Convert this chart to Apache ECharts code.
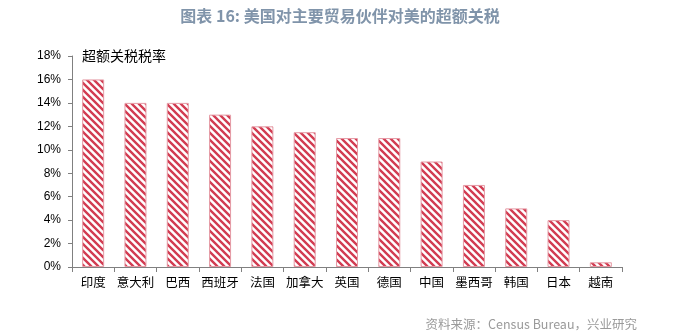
<!DOCTYPE html>
<html>
<head>
<meta charset="utf-8">
<script src="https://cdn.jsdelivr.net/npm/echarts@6/dist/echarts.min.js"></script>
<style>
  html, body { margin: 0; padding: 0; background: #fff; }
  #chart { width: 680px; height: 335px; }
</style>
</head>
<body>
<div id="chart"></div>
<script>
// Trading partners and their excess tariff rate on US goods (%)
const countries = ['印度', '意大利', '巴西', '西班牙', '法国', '加拿大', '英国', '德国', '中国', '墨西哥', '韩国', '日本', '越南'];
const excessTariff = [16, 14, 14, 13, 12, 11.5, 11, 11, 9, 7, 5, 4, 0.4];
const yTicks = [0, 2, 4, 6, 8, 10, 12, 14, 16, 18];

// Diagonal hatch fill for the bars
function hatchPattern() {
  const size = 7;
  const c = document.createElement('canvas');
  c.width = size; c.height = size;
  const ctx = c.getContext('2d');
  ctx.fillStyle = '#ffffff';
  ctx.fillRect(0, 0, size, size);
  ctx.strokeStyle = '#d23c52';
  ctx.lineWidth = 2.4;
  ctx.beginPath();
  // lines running top-left to bottom-right
  for (let k = -size; k <= size; k += size) {
    ctx.moveTo(k - 1, -1);
    ctx.lineTo(k + size + 1, size + 1);
  }
  ctx.stroke();
  return c;
}

const chart = echarts.init(document.getElementById('chart'), null, { renderer: 'canvas' });
chart.setOption({
  animation: false,
  backgroundColor: '#ffffff',
  title: [{
    text: '图表 16: 美国对主要贸易伙伴对美的超额关税',
    left: 'center',
    top: 3,
    textStyle: { fontFamily: 'Noto Sans CJK SC', fontSize: 16, fontWeight: 'bold', color: '#8094aa' }
  }, {
    text: '资料来源：Census Bureau，兴业研究',
    right: 38,
    top: 313,
    textStyle: { fontFamily: 'Noto Sans CJK SC', fontSize: 12.5, fontWeight: 'normal', color: '#9a9a9a' }
  }],
  graphic: [{
    type: 'text',
    left: 82,
    top: 49,
    style: { text: '超额关税税率', font: '14px "Noto Sans CJK SC"', fill: '#000' }
  }],
  grid: { left: 72, right: 58, top: 56, bottom: 68, containLabel: false },
  xAxis: {
    type: 'category',
    data: countries,
    axisLine: { lineStyle: { color: '#808080', width: 1 } },
    axisTick: { show: true, alignWithLabel: false, length: 5, lineStyle: { color: '#808080' } },
    axisLabel: { fontFamily: 'Noto Sans CJK SC', fontSize: 12.5, color: '#000', margin: 9, interval: 0 },
    splitLine: { show: false }
  },
  yAxis: {
    type: 'value',
    min: yTicks[0],
    max: yTicks[yTicks.length - 1],
    interval: 2,
    axisLine: { show: true, lineStyle: { color: '#808080', width: 1 } },
    axisTick: { show: true, length: 4, lineStyle: { color: '#808080' } },
    axisLabel: { fontFamily: 'Liberation Sans', fontSize: 12, color: '#000', margin: 11, formatter: v => v + '%' },
    splitLine: { show: false }
  },
  series: [{
    type: 'bar',
    data: excessTariff,
    barWidth: '52%',
    itemStyle: {
      color: { image: hatchPattern(), repeat: 'repeat' },
      borderColor: '#e59aa5',
      borderWidth: 1
    }
  }]
});
</script>
</body>
</html>
